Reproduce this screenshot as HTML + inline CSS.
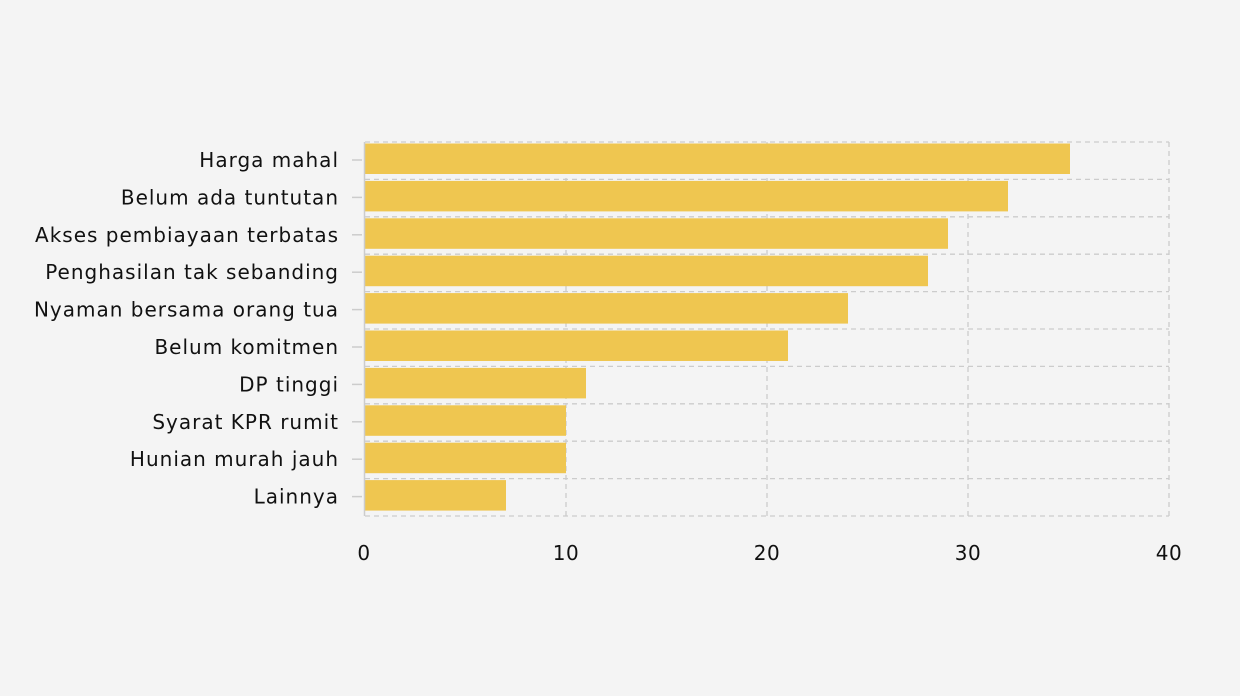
<!DOCTYPE html>
<html><head><style>html,body{margin:0;background:#f4f4f4;overflow:hidden}svg{display:block}</style></head><body>
<svg width="1240" height="696" xmlns="http://www.w3.org/2000/svg" font-family="DejaVu Sans, sans-serif" font-size="20" letter-spacing="1">
<rect width="1240" height="696" fill="#f4f4f4"/>
<g stroke="#cccccc" stroke-width="1.3" stroke-dasharray="5,4" fill="none">
<line x1="566" y1="142" x2="566" y2="516"/><line x1="767" y1="142" x2="767" y2="516"/><line x1="968" y1="142" x2="968" y2="516"/><line x1="1169" y1="142" x2="1169" y2="516"/>
<line x1="365" y1="142" x2="1169" y2="142"/><line x1="365" y1="179.4" x2="1169" y2="179.4"/><line x1="365" y1="216.8" x2="1169" y2="216.8"/><line x1="365" y1="254.2" x2="1169" y2="254.2"/><line x1="365" y1="291.6" x2="1169" y2="291.6"/><line x1="365" y1="329" x2="1169" y2="329"/><line x1="365" y1="366.4" x2="1169" y2="366.4"/><line x1="365" y1="403.8" x2="1169" y2="403.8"/><line x1="365" y1="441.2" x2="1169" y2="441.2"/><line x1="365" y1="478.6" x2="1169" y2="478.6"/><line x1="365" y1="516" x2="1169" y2="516"/>
</g>
<g fill="#efc650">
<rect x="365" y="143.5" width="705" height="30.5"/>
<rect x="365" y="180.9" width="643" height="30.5"/>
<rect x="365" y="218.3" width="583" height="30.5"/>
<rect x="365" y="255.7" width="563" height="30.5"/>
<rect x="365" y="293.1" width="483" height="30.5"/>
<rect x="365" y="330.5" width="423" height="30.5"/>
<rect x="365" y="367.9" width="221" height="30.5"/>
<rect x="365" y="405.3" width="201" height="30.5"/>
<rect x="365" y="442.7" width="201" height="30.5"/>
<rect x="365" y="480.1" width="141" height="30.5"/>
</g>
<line x1="364.5" y1="142" x2="364.5" y2="516" stroke="#cccccc" stroke-width="1.5"/>
<g stroke="#cccccc" stroke-width="1.5">
<line x1="352" y1="160" x2="362" y2="160"/><line x1="352" y1="197.4" x2="362" y2="197.4"/><line x1="352" y1="234.8" x2="362" y2="234.8"/><line x1="352" y1="272.2" x2="362" y2="272.2"/><line x1="352" y1="309.6" x2="362" y2="309.6"/><line x1="352" y1="347" x2="362" y2="347"/><line x1="352" y1="384.4" x2="362" y2="384.4"/><line x1="352" y1="421.8" x2="362" y2="421.8"/><line x1="352" y1="459.2" x2="362" y2="459.2"/><line x1="352" y1="496.6" x2="362" y2="496.6"/>
</g>
<g text-anchor="end" fill="#111">
<text x="339" y="167">Harga mahal</text>
<text x="339" y="204.4">Belum ada tuntutan</text>
<text x="339" y="241.8">Akses pembiayaan terbatas</text>
<text x="339" y="279.2">Penghasilan tak sebanding</text>
<text x="339" y="316.6">Nyaman bersama orang tua</text>
<text x="339" y="354">Belum komitmen</text>
<text x="339" y="391.4">DP tinggi</text>
<text x="339" y="428.8">Syarat KPR rumit</text>
<text x="339" y="466.2">Hunian murah jauh</text>
<text x="339" y="503.6">Lainnya</text>
</g>
<g text-anchor="middle" fill="#111" letter-spacing="0.5">
<text x="364" y="560">0</text><text x="566" y="560">10</text><text x="767" y="560">20</text><text x="968" y="560">30</text><text x="1169" y="560">40</text>
</g>
</svg>
</body></html>
